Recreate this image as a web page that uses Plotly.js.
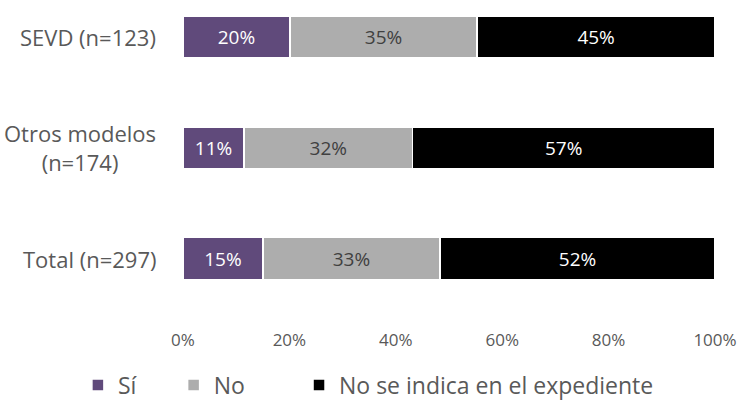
<!DOCTYPE html>
<html><head><meta charset="utf-8">
<script src="https://cdn.plot.ly/plotly-3.0.1.min.js"></script>
<style>body{margin:0;background:#fff}#chart{width:742px;height:400px}</style>
</head><body><div id="chart"></div>
<script>
const categories = ["SEVD (n=123)", "Otros modelos<br>(n=174)", "Total (n=297)"];
const seriesNames = ["Sí", "No", "No se indica en el expediente"];
const si = [20.1, 11.5, 15.0];
const no = [35.2, 31.6, 33.3];
const noIndica = [44.7, 56.9, 51.7];
const siLabels = ["20%", "11%", "15%"];
const noLabels = ["35%", "32%", "33%"];
const noIndicaLabels = ["45%", "57%", "52%"];
const tickVals = [0, 20, 40, 60, 80, 100];
const tickText = ["0%", "20%", "40%", "60%", "80%", "100%"];

const colors = ["#604A7B", "#ADADAD", "#000000"];
const textColors = ["#ffffff", "#404040", "#ffffff"];
const values = [si, no, noIndica];
const labels = [siLabels, noLabels, noIndicaLabels];
const legendIds = ["legend", "legend2", "legend3"];
const legendX = [0.105, 0.234, 0.403];
const font = "Open Sans, sans-serif";

const traces = values.map((v, i) => ({
  type: "bar", orientation: "h", name: seriesNames[i], legend: legendIds[i],
  x: v, y: categories, text: labels[i], texttemplate: "%{text}",
  textposition: "inside", insidetextanchor: "middle",
  textfont: {color: textColors[i], size: 19, family: font},
  marker: {color: colors[i], line: {color: "#ffffff", width: 1.5}},
  width: 0.38, hoverinfo: "skip"
}));

const annotations = categories.map(c => ({
  text: c, xref: "paper", yref: "y", x: -0.047, y: c,
  xanchor: "right", yanchor: "middle", align: "center", showarrow: false,
  font: {family: font, size: 22, color: "#595959"}
}));

const layout = {
  width: 742, height: 400,
  margin: {l: 183, r: 27, t: 9, b: 72, autoexpand: false},
  barmode: "stack",
  paper_bgcolor: "#ffffff", plot_bgcolor: "#ffffff",
  showlegend: true,
  xaxis: {range: [0, 100], tickvals: tickVals, ticktext: tickText, showgrid: false,
    zeroline: false, showline: false, ticks: "", ticklen: 0,
    tickfont: {family: font, size: 17, color: "#595959"}, fixedrange: true},
  yaxis: {range: [2.624, -0.253], autorange: false, showticklabels: false, showgrid: false,
    zeroline: false, showline: false, ticks: "", fixedrange: true},
  annotations: annotations
};
legendIds.forEach((id, i) => {
  layout[id] = {orientation: "h", xref: "container", yref: "container",
    x: legendX[i], xanchor: "left", y: 0.0375, yanchor: "middle",
    font: {family: font, size: 23, color: "#595959"}, itemwidth: 30,
    bgcolor: "rgba(0,0,0,0)"};
});
Plotly.newPlot("chart", traces, layout, {displayModeBar: false, staticPlot: true});
</script></body></html>
